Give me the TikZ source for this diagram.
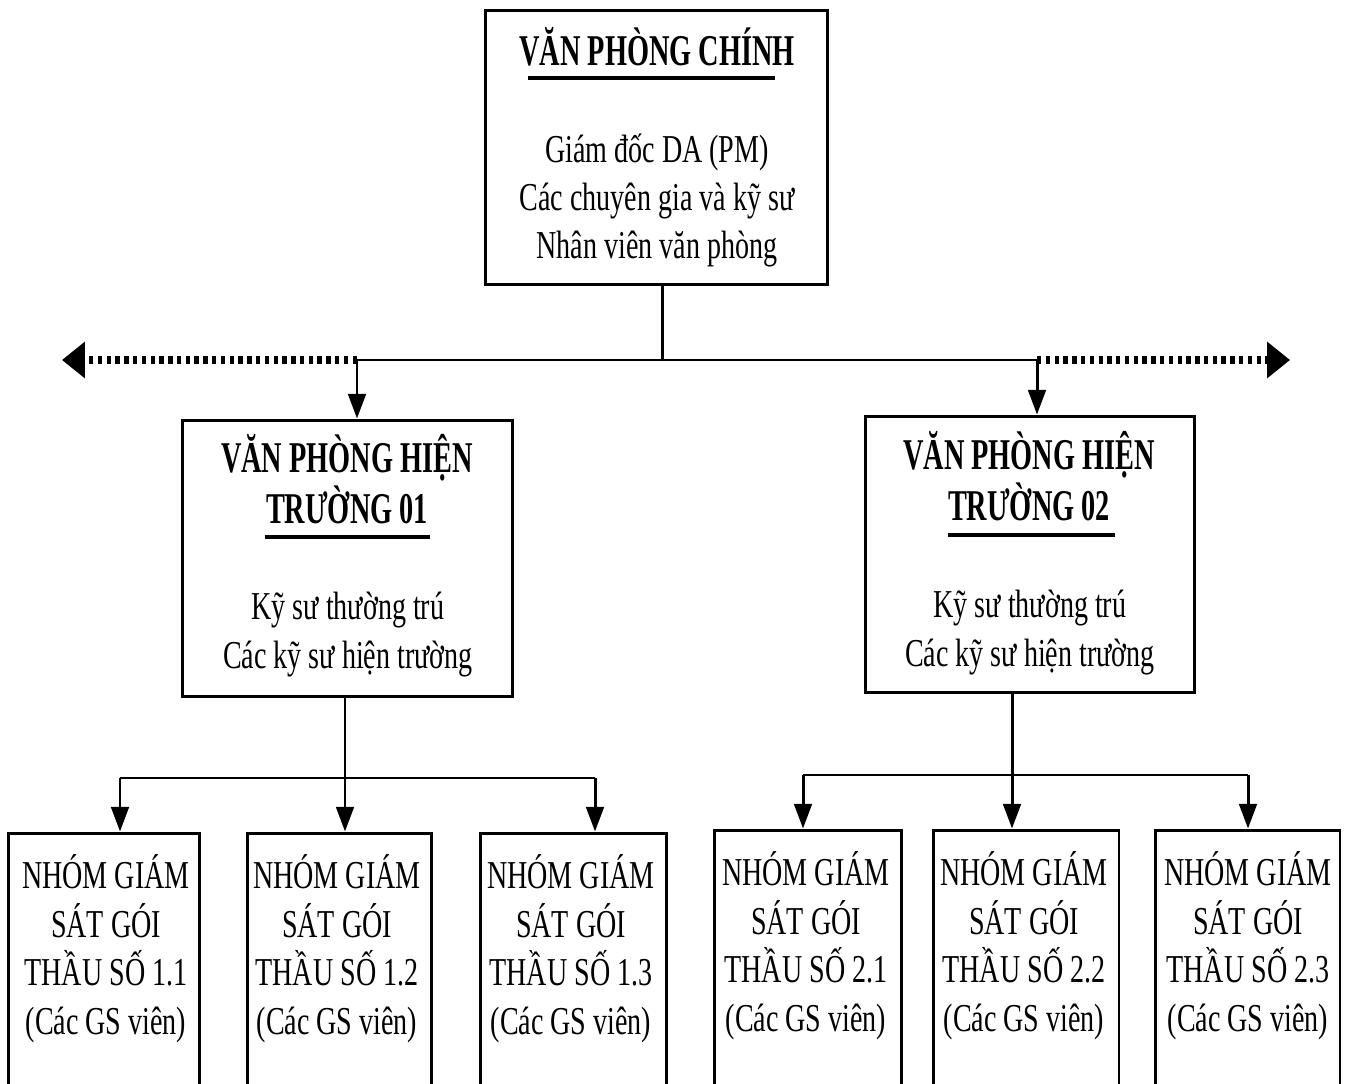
\documentclass[tikz,border=0pt]{standalone}
\usepackage{fontspec}
\setmainfont{Liberation Serif}
\newfontfamily\headfont[FakeStretch=0.645]{Liberation Serif}
\newfontfamily\bodyfont[FakeStretch=0.71]{Liberation Serif}
\usetikzlibrary{arrows.meta}

\begin{document}
\begin{tikzpicture}[x=0.02cm, y=-0.02cm,
    office/.style={draw, line width=1.7pt, inner sep=0pt},
    head/.style={font=\headfont\bfseries\fontsize{25}{28.5}\selectfont, align=center, anchor=base, inner sep=0pt},
    body/.style={font=\bodyfont\fontsize{22.5}{27.6}\selectfont, align=center, anchor=base, inner sep=0pt},
    link/.style={line width=1.7pt},
    down/.style={link, -{Triangle[length=14pt, width=10pt]}},
    spread/.style={line width=4pt, dash pattern=on 2.5pt off 2.5pt, -{Triangle[length=13pt, width=20pt]}},
    rule/.style={line width=2.3pt}]
    \useasboundingbox (0,0) rectangle (1345,1084);
    \clip (0,0) rectangle (1345,1084);

    % main office (base = last line)
    \node[office, minimum width=6.86cm, minimum height=5.5cm] (main) at (656.5,147.5) {};
    \node[head] (mainhead) at (657,66) {VĂN PHÒNG CHÍNH};
    \draw[rule] (528,78) -- (775,78);
    \node[body] (mainbody) at (657,259) {Giám đốc DA (PM)\\Các chuyên gia và kỹ sư\\Nhân viên văn phòng};

    % site offices
    \node[office, minimum width=6.62cm, minimum height=5.54cm] (site1) at (347.5,558.5) {};
    \node[head] (site1head) at (347,523) {VĂN PHÒNG HIỆN\\TRƯỜNG 01};
    \draw[rule] (265,537) -- (430,537);
    \node[body] (site1body) at (348,668) {Kỹ sư thường trú\\Các kỹ sư hiện trường};

    \node[office, minimum width=6.6cm, minimum height=5.54cm] (site2) at (1030,554.5) {};
    \node[head] (site2head) at (1029,520) {VĂN PHÒNG HIỆN\\TRƯỜNG 02};
    \draw[rule] (948,535) -- (1115,535);
    \node[body] (site2body) at (1030,666) {Kỹ sư thường trú\\Các kỹ sư hiện trường};

    % supervision groups
    \foreach \name/\cx/\tx/\w/\top/\num in {g11/104/106/3.84/833/1.1, g12/339.5/337/3.7/833/1.2, g13/573.5/571/3.74/833/1.3,
        g21/808/806/3.74/830/2.1, g22/1026/1024/3.72/830/2.2, g23/1247.5/1248/3.7/830/2.3} {
        \node[office, minimum width=\w cm, minimum height=6cm] (\name) at (\cx,\top+150) {};
        \node[body] (\name text) at (\tx,\top+201) {NHÓM GIÁM\\SÁT GÓI\\THẦU SỐ \num\\(Các GS viên)};
    }

    % connectors
    \coordinate (hub) at (662,360);
    \coordinate (busL) at (357,360);
    \coordinate (busR) at (1037,360);
    \coordinate (endL) at (62,360);
    \coordinate (endR) at (1290,360);
    \draw[link] (main.south -| hub) -- (hub);
    \draw[link] (busL) -- (busR);
    \draw[spread] (busL) -- (endL);
    \draw[spread] (busR) -- (endR);
    \draw[down] (busL) -- (busL |- site1.north);
    \draw[down] (busR) -- (busR |- site2.north);

    \coordinate (s1) at (345,778);
    \coordinate (s1a) at (120,778);
    \coordinate (s1c) at (595,778);
    \draw[link] (site1.south -| s1) -- (s1);
    \draw[link] (s1a) -- (s1c);
    \foreach \c/\b in {s1a/g11, s1/g12, s1c/g13}
        \draw[down] (\c) -- (\c |- \b.north);

    \coordinate (s2) at (1012,775);
    \coordinate (s2a) at (803,775);
    \coordinate (s2c) at (1248,775);
    \draw[link] (site2.south -| s2) -- (s2);
    \draw[link] (s2a) -- (s2c);
    \foreach \c/\b in {s2a/g21, s2/g22, s2c/g23}
        \draw[down] (\c) -- (\c |- \b.north);
\end{tikzpicture}
\end{document}
